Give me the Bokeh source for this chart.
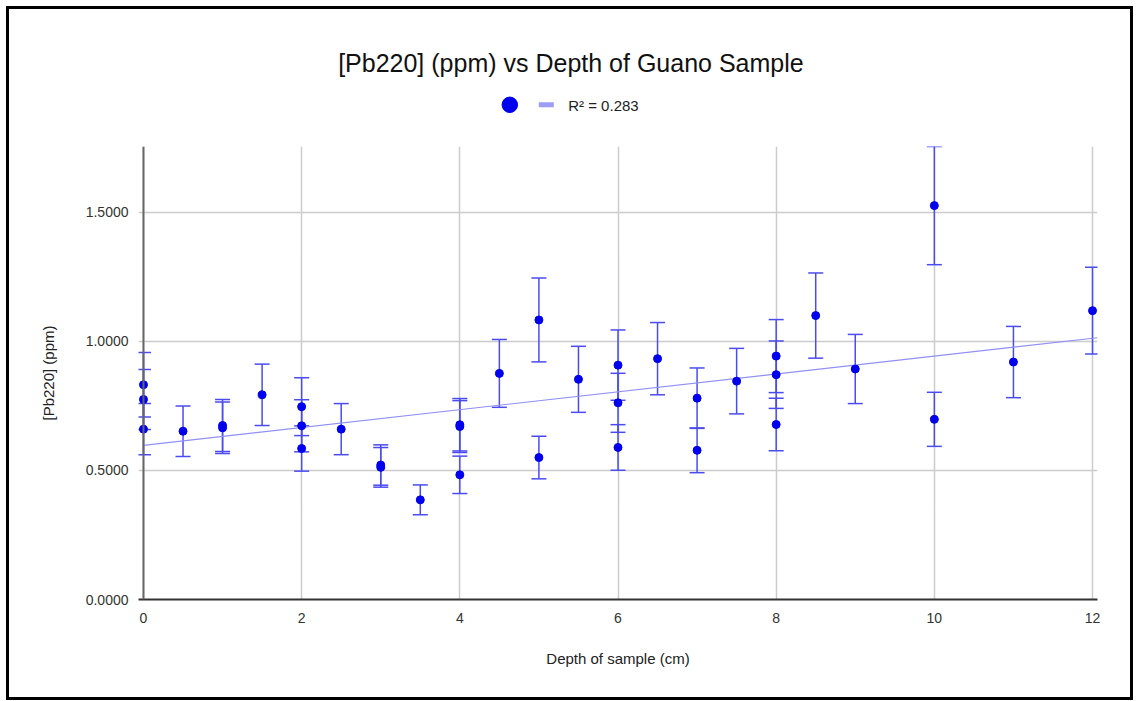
import numpy as np
from bokeh.plotting import figure
from bokeh.layouts import column
from bokeh.models import (Range1d, FixedTicker, NumeralTickFormatter, Whisker, TeeHead,
                          ColumnDataSource, Span)
from bokeh.core.properties import value
from bokeh.embed import file_html
from bokeh.resources import INLINE

# ---- data ----
depth_cm = [0, 0, 0, 0.5, 1, 1, 1.5, 2, 2, 2, 2.5, 3, 3, 3.5, 4, 4, 4, 4.5, 5, 5,
            5.5, 6, 6, 6, 6.5, 7, 7, 7.5, 8, 8, 8, 8.5, 9, 10, 10, 11, 12]
pb220_ppm = [0.832, 0.775, 0.660, 0.652, 0.674, 0.665, 0.793, 0.747, 0.673, 0.585,
             0.660, 0.521, 0.512, 0.386, 0.677, 0.670, 0.483, 0.876, 1.083, 0.550,
             0.853, 0.908, 0.762, 0.589, 0.933, 0.780, 0.578, 0.846, 0.943, 0.871,
             0.678, 1.100, 0.893, 1.526, 0.698, 0.920, 1.119]
error_pct = 15  # percent error bars
x_ticks = [0, 2, 4, 6, 8, 10, 12]
y_ticks = [0, 0.5, 1.0, 1.5]
title_text = "[Pb220] (ppm) vs Depth of Guano Sample"
x_label = "Depth of sample (cm)"
y_label = "[Pb220] (ppm)"
legend_text = "R\u00b2 = 0.283"

FONT = "Liberation Sans"
PT_COLOR = "#0000ee"
ERR_COLOR = "#4b4bf2"
TREND_COLOR = "#9090f5"
LEG_TREND_COLOR = "#9d9df7"

W = 1121
H_HEAD = 137
H_MAIN = 551
B_LEFT = 129
B_RIGHT = 33

xs = np.array(depth_cm, dtype=float)
ys = np.array(pb220_ppm, dtype=float)
err = ys * error_pct / 100.0
src = ColumnDataSource(dict(x=xs, y=ys, upper=ys + err, lower=ys - err))
slope, intercept = np.polyfit(xs, ys, 1)

# ---------------- header (title + legend), canvas-pixel coordinates ----------------
h = figure(width=W, height=H_HEAD, output_backend="svg", toolbar_location=None,
           x_range=Range1d(B_LEFT, W - B_RIGHT), y_range=Range1d(H_HEAD, 0),
           x_axis_type=None, y_axis_type=None,
           min_border_left=B_LEFT, min_border_right=B_RIGHT, min_border_top=0, min_border_bottom=0,
           background_fill_color="white", border_fill_color="white")
h.outline_line_color = None
h.grid.visible = False
h.text(x=[561.4], y=[53], text=[title_text], text_font=value(FONT), text_font_size="25px",
       text_color="#111111", text_align="center", text_baseline="alphabetic")
h.scatter(x=[500.3], y=[95.3], size=15.5, marker="circle",
          fill_color=PT_COLOR, line_color=PT_COLOR)
h.scatter(x=[536.8], y=[95.3], size=15, marker="dash",
          line_color=LEG_TREND_COLOR, line_width=5)
h.text(x=[558.7], y=[95.5], text=[legend_text], text_font=value(FONT), text_font_size="15px",
       text_color="#222222", text_align="left", text_baseline="alphabetic")

# ---------------- main chart ----------------
p = figure(width=W, height=H_MAIN, output_backend="svg", toolbar_location=None,
           x_range=Range1d(-0.063, 12.063), y_range=Range1d(0, 1.755),
           min_border_left=B_LEFT, min_border_right=B_RIGHT, min_border_top=0, min_border_bottom=98,
           background_fill_color="white", border_fill_color="white")
p.outline_line_color = None

p.xgrid.ticker = FixedTicker(ticks=x_ticks)
p.ygrid.ticker = FixedTicker(ticks=y_ticks)
p.xgrid.grid_line_color = "#cccccc"
p.ygrid.grid_line_color = "#cccccc"
p.xgrid.grid_line_width = 1.5
p.ygrid.grid_line_width = 1.5

xa = p.xaxis[0]
xa.ticker = FixedTicker(ticks=x_ticks)
xa.major_tick_line_color = None
xa.minor_tick_line_color = None
xa.axis_line_color = "#333333"
xa.axis_line_width = 2
xa.major_label_text_font = FONT
xa.major_label_text_font_size = "14px"
xa.major_label_text_color = "#333333"
xa.major_label_standoff = 7
xa.axis_label = x_label
xa.axis_label_text_font = FONT
xa.axis_label_text_font_size = "15px"
xa.axis_label_text_font_style = "normal"
xa.axis_label_text_color = "#222222"
xa.axis_label_standoff = 24

ya = p.yaxis[0]
ya.ticker = FixedTicker(ticks=y_ticks)
ya.formatter = NumeralTickFormatter(format="0.0000")
ya.major_tick_line_color = None
ya.minor_tick_line_color = None
ya.axis_line_color = None
ya.major_label_text_font = FONT
ya.major_label_text_font_size = "14px"
ya.major_label_text_color = "#333333"
ya.major_label_standoff = 4
ya.axis_label = y_label
ya.axis_label_text_font = FONT
ya.axis_label_text_font_size = "15px"
ya.axis_label_text_font_style = "normal"
ya.axis_label_text_color = "#222222"
ya.axis_label_standoff = 26

# visible vertical axis line at x = 0
p.add_layout(Span(location=0, dimension="height", line_color="#666666", line_width=2))

# trendline (least-squares fit of the data)
tx = np.array([0, 12.063])
p.line(tx, intercept + slope * tx, line_color=TREND_COLOR, line_width=1.2)

# error bars
wh = Whisker(source=src, base="x", upper="upper", lower="lower", dimension="height",
             line_color=ERR_COLOR, line_width=1.5,
             upper_head=TeeHead(size=15, line_color=ERR_COLOR, line_width=1.5),
             lower_head=TeeHead(size=15, line_color=ERR_COLOR, line_width=1.5))
p.add_layout(wh)

p.scatter("x", "y", source=src, size=8, fill_color=PT_COLOR, line_color=PT_COLOR)

layout = column(h, p, spacing=0,
                styles={"border": "3px solid black", "margin-left": "6px", "margin-top": "6px"})

open("out.html", "w").write(file_html(layout, INLINE))
